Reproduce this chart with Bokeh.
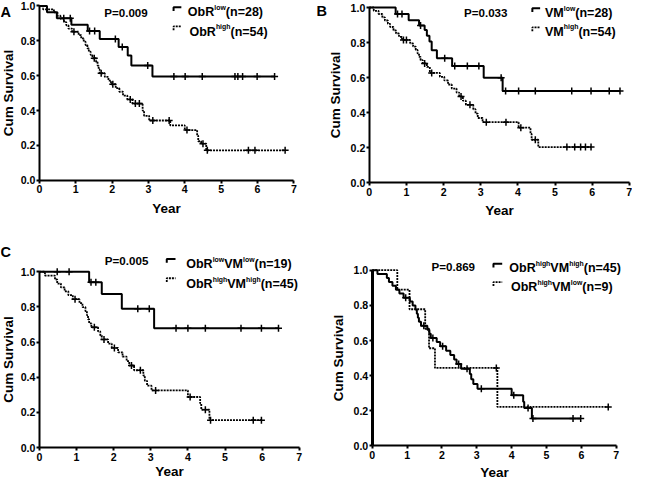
import numpy as np
from bokeh.plotting import figure
from bokeh.layouts import gridplot
from bokeh.models import Label, FixedTicker, CustomJSTickFormatter, Range1d
from bokeh.embed import file_html
from bokeh.resources import INLINE

FONT = "Liberation Sans"

# ---------------- data (years, cumulative survival) ----------------
# Panel A: ObR low (n=28), ObR high (n=54)
a_low_t = [0.21, 0.48, 0.88, 1.33, 1.66, 2.18, 2.43, 2.53, 3.11]
a_low_s = [0.964, 0.929, 0.893, 0.857, 0.811, 0.765, 0.716, 0.659, 0.595]
a_low_c = [0.67, 0.85, 1.38, 1.52, 2.09, 2.28, 2.98, 3.70, 4.01, 4.48, 5.38, 5.46, 5.59, 5.99, 6.47]

a_high_t = [0.10, 0.40, 0.50, 0.58, 0.68, 0.74, 0.80, 0.90, 1.08, 1.15, 1.22, 1.27, 1.32, 1.36,
            1.41, 1.46, 1.56, 1.60, 1.63, 1.66, 1.80, 1.90, 1.97, 2.10, 2.20, 2.30, 2.42, 2.56,
            2.84, 2.88, 3.02, 3.60, 4.00, 4.34, 4.37, 4.45, 4.59]
a_high_s = [0.981, 0.963, 0.944, 0.926, 0.907, 0.889, 0.870, 0.852, 0.833, 0.814, 0.795, 0.776,
            0.757, 0.738, 0.719, 0.700, 0.679, 0.658, 0.636, 0.614, 0.593, 0.572, 0.551, 0.529,
            0.508, 0.486, 0.464, 0.440, 0.400, 0.370, 0.343, 0.315, 0.288, 0.256, 0.224, 0.210,
            0.172]
a_high_c = [0.95, 1.51, 1.70, 2.02, 2.50, 2.64, 2.75, 3.12, 3.57, 4.06, 4.50, 4.62, 5.75, 5.93, 6.76]

# Panel B: VM low (n=28), VM high (n=54)
b_low_t = [0.71, 1.06, 1.34, 1.49, 1.55, 1.62, 1.68, 1.82, 2.23, 3.08, 3.59]
b_low_s = [0.963, 0.927, 0.898, 0.872, 0.839, 0.806, 0.757, 0.711, 0.666, 0.600, 0.524]
b_low_c = [0.76, 0.88, 1.38, 2.03, 2.30, 2.64, 2.95, 3.55, 3.67, 4.02, 4.47, 5.45, 5.97, 6.46, 6.75]

b_high_t = [0.12, 0.25, 0.35, 0.42, 0.50, 0.56, 0.65, 0.72, 0.80, 0.88, 1.10, 1.18, 1.25, 1.30,
            1.34, 1.38, 1.44, 1.55, 1.63, 1.90, 2.02, 2.12, 2.22, 2.35, 2.42, 2.52, 2.60, 2.80,
            2.86, 2.92, 3.05, 4.02, 4.34, 4.37, 4.55]
b_high_s = [0.981, 0.963, 0.944, 0.926, 0.907, 0.889, 0.870, 0.852, 0.833, 0.815, 0.796, 0.777,
            0.758, 0.738, 0.719, 0.700, 0.681, 0.661, 0.627, 0.605, 0.584, 0.561, 0.538, 0.515,
            0.493, 0.469, 0.445, 0.420, 0.395, 0.370, 0.346, 0.315, 0.280, 0.246, 0.204]
b_high_c = [0.92, 1.00, 1.49, 1.68, 2.47, 2.71, 3.15, 3.68, 4.08, 4.47, 5.32, 5.53, 5.69, 5.82, 5.97]

# Panel C: ObRlowVMlow (n=19), ObRhighVMhigh (n=45)
c_low_t = [1.34, 1.68, 2.22, 3.09]
c_low_s = [0.941, 0.874, 0.789, 0.679]
c_low_c = [0.48, 0.80, 1.39, 1.52, 2.65, 2.96, 3.68, 4.00, 4.47, 5.43, 5.98, 6.44]

hh_t = [0.15, 0.42, 0.48, 0.58, 0.68, 0.78, 0.90, 1.08, 1.16, 1.24, 1.28, 1.31, 1.34, 1.40,
        1.58, 1.64, 1.68, 1.85, 1.95, 2.12, 2.24, 2.35, 2.42, 2.55, 2.80, 2.84, 2.90, 3.02,
        4.00, 4.33, 4.36, 4.58]
hh_s = [0.978, 0.956, 0.933, 0.911, 0.889, 0.867, 0.844, 0.822, 0.799, 0.776, 0.753, 0.730,
        0.707, 0.684, 0.661, 0.638, 0.615, 0.591, 0.567, 0.542, 0.517, 0.492, 0.467, 0.440,
        0.410, 0.380, 0.352, 0.325, 0.288, 0.252, 0.216, 0.156]
hh_c = [0.96, 1.48, 1.74, 2.02, 2.48, 2.72, 3.13, 4.06, 4.47, 4.61, 5.76, 5.98]

# Panel D: ObRhighVMlow (n=9)
d_hl_t = [0.72, 1.07, 1.52, 1.63, 1.80, 3.59]
d_hl_s = [0.889, 0.778, 0.667, 0.556, 0.444, 0.222]
d_hl_c = [3.56, 6.77]

year_ticks = [0, 1, 2, 3, 4, 5, 6, 7]
surv_ticks = [0.0, 0.2, 0.4, 0.6, 0.8, 1.0]

# Arial/Liberation Sans Bold advance widths (1/1000 em)
AW = {'O': 778, 'b': 611, 'R': 722, 'l': 278, 'o': 611, 'w': 778, 'h': 611, 'i': 278,
      'g': 611, 'V': 667, 'M': 833, '(': 333, ')': 333, 'n': 611, '=': 584, 'P': 667,
      '.': 278, ' ': 278}


def tw(s, size):
    return sum(AW.get(ch, 556) for ch in s) / 1000.0 * size


SF = 0.965  # font scale (page is ~0.97 of the reference size)


def make_panel(W, H, PW, PH, px, py, fl, fr, y1, y0, xstand, ystand, ylw=2):
    """fl/fr/y1/y0: reference-pixel positions of x=0, x=7, y=1, y=0 inside a PWxPH panel."""
    ppx = (fr - fl) / 7.0
    ppy = (y0 - y1)
    xr = Range1d(-fl / ppx, (PW - fl) / ppx)
    yr = Range1d(-(PH - y0) / ppy, y0 / ppy)
    p = figure(width=W, height=H, x_range=xr, y_range=yr,
               output_backend="svg", toolbar_location=None, title=None,
               min_border=0, min_border_left=0, min_border_right=0,
               min_border_top=0, min_border_bottom=0)
    p.xgrid.visible = False
    p.ygrid.visible = False
    p.outline_line_color = None
    p.background_fill_color = "white"
    p.border_fill_color = "white"
    for ax in (p.xaxis[0], p.yaxis[0]):
        ax.fixed_location = 0
        ax.axis_line_width = 2
        ax.axis_line_color = "black"
        ax.major_tick_line_width = 2
        ax.major_tick_line_color = "black"
        ax.major_tick_out = 3
        ax.major_tick_in = 0
        ax.minor_tick_line_color = None
        ax.major_label_text_font = FONT
        ax.major_label_text_font_style = "bold"
        ax.major_label_text_font_size = f"{11 * SF:.1f}px"
        ax.major_label_text_color = "black"
        ax.axis_label_text_font = FONT
        ax.axis_label_text_font_style = "bold"
        ax.axis_label_text_font_size = f"{14 * SF:.1f}px"
        ax.axis_label_text_color = "black"
        ax.major_label_standoff = 2
    p.yaxis[0].axis_line_width = ylw
    p.yaxis[0].major_label_standoff = 1
    p.xaxis[0].axis_label = "Year"
    p.yaxis[0].axis_label = "Cum Survival"
    p.xaxis[0].axis_label_standoff = xstand
    p.yaxis[0].axis_label_standoff = ystand
    p.xaxis[0].ticker = FixedTicker(ticks=year_ticks)
    p.yaxis[0].ticker = FixedTicker(ticks=surv_ticks)
    p.xaxis[0].formatter = CustomJSTickFormatter(code="return tick.toFixed(0);")
    p.yaxis[0].formatter = CustomJSTickFormatter(code="return tick.toFixed(1);")
    p.xaxis[0].bounds = (0, 7)
    p.yaxis[0].bounds = (0, 1)
    ref = dict(ox=px + fl, oy=py + y0, ppx=ppx, ppy=ppy)
    return p, ref


def km(p, t, s, c, dashed):
    xs = [0.0] + list(t) + [max(c[-1], t[-1])]
    ys = [1.0] + list(s) + [s[-1]]
    if dashed:
        p.step(xs, ys, mode="after", color="black", line_width=1.8, line_dash="2 1")
    else:
        p.step(xs, ys, mode="after", color="black", line_width=2)
    tt = np.array(t)
    ss = np.array([1.0] + list(s))
    cy = [float(ss[np.searchsorted(tt, ci, side="right")]) for ci in c]
    p.scatter(c, cy, marker="cross", size=7, line_width=1.5, color="black")


def to_data(ref, X, Y):
    return (X - ref['ox']) / ref['ppx'], (ref['oy'] - Y) / ref['ppy']


def rich(p, ref, X, Y, parts, size):
    x, y = to_data(ref, X, Y)
    size = size * SF
    off = 0.0
    for s, sup in parts:
        fs = size * 0.55 if sup else size
        p.add_layout(Label(x=x, y=y, x_offset=off, y_offset=(size * 0.36 if sup else 0),
                           text=s, text_font=FONT, text_font_style="bold",
                           text_font_size=f"{fs:.1f}px", text_baseline="alphabetic",
                           text_align="left", text_color="black"))
        off += tw(s, fs)


def sym(p, ref, X0, X1, Yt, Yb, dashed):
    xa, ya = to_data(ref, X0, Yb)
    xb, yb = to_data(ref, X1, Yt)
    if dashed:
        p.line([xa, xa, xb], [ya, yb, yb], color="black", line_width=1.8, line_dash="2 1")
    else:
        p.line([xa, xa, xb], [ya, yb, yb], color="black", line_width=2)


# ---------------- Panel A ----------------
pa, ra = make_panel(316, 240, 325, 250, 0, 0, 40, 301.7, 5.7, 187.3, 4, 2)
km(pa, a_low_t, a_low_s, a_low_c, False)
km(pa, a_high_t, a_high_s, a_high_c, True)
rich(pa, ra, 0, 11.7, [("A", False)], 15)
rich(pa, ra, 106.7, 12.3, [("P=0.009", False)], 12)
sym(pa, ra, 178, 186, 7, 11, False)
sym(pa, ra, 178, 186, 27, 31, True)
rich(pa, ra, 192.7, 12.3, [("ObR", False), ("low", True), ("(n=28)", False)], 13)
rich(pa, ra, 194.3, 32.3, [("ObR", False), ("high", True), ("(n=54)", False)], 13)

# ---------------- Panel B ----------------
pb, rb_ = make_panel(316, 240, 325, 250, 325, 0, 54.3, 321.7, 7.3, 190, 4, 5)
km(pb, b_low_t, b_low_s, b_low_c, False)
km(pb, b_high_t, b_high_s, b_high_c, True)
rich(pb, rb_, 325, 10.5, [("B", False)], 15)
rich(pb, rb_, 476.7, 12.7, [("P=0.033", False)], 12)
sym(pb, rb_, 547, 555, 8, 12, False)
sym(pb, rb_, 547, 555, 28, 32, True)
rich(pb, rb_, 560, 13.3, [("VM", False), ("low", True), ("(n=28)", False)], 13)
rich(pb, rb_, 560, 32.3, [("VM", False), ("high", True), ("(n=54)", False)], 13)

# ---------------- Panel C ----------------
pc, rc = make_panel(316, 241, 325, 249, 0, 250, 40, 307.3, 32.3, 214, 0, 2)
km(pc, c_low_t, c_low_s, c_low_c, False)
km(pc, hh_t, hh_s, hh_c, True)
rich(pc, rc, 0, 261.7, [("C", False)], 15)
rich(pc, rc, 107.3, 271, [("P=0.005", False)], 12)
sym(pc, rc, 171, 180, 269, 273, False)
sym(pc, rc, 171, 180, 289, 293, True)
rich(pc, rc, 191, 274.5, [("ObR", False), ("low", True), ("VM", False), ("low", True), ("(n=19)", False)], 13)
rich(pc, rc, 191, 295, [("ObR", False), ("high", True), ("VM", False), ("high", True), ("(n=45)", False)], 13)

# ---------------- Panel D ----------------
pd_, rd = make_panel(316, 241, 325, 249, 325, 250, 57.3, 308.3, 30.7, 212.3, 3, 5, ylw=3)
km(pd_, hh_t, hh_s, hh_c, False)
km(pd_, d_hl_t, d_hl_s, d_hl_c, True)
rich(pd_, rd, 443.3, 276.7, [("P=0.869", False)], 12)
sym(pd_, rd, 507, 516, 274, 278, False)
sym(pd_, rd, 507, 516, 293, 297, True)
rich(pd_, rd, 523.3, 278.3, [("ObR", False), ("high", True), ("VM", False), ("high", True), ("(n=45)", False)], 13)
rich(pd_, rd, 525, 297.7, [("ObR", False), ("high", True), ("VM", False), ("low", True), ("(n=9)", False)], 13)

grid = gridplot([[pa, pb], [pc, pd_]], toolbar_location=None)

open("out.html", "w").write(file_html(grid, INLINE))
